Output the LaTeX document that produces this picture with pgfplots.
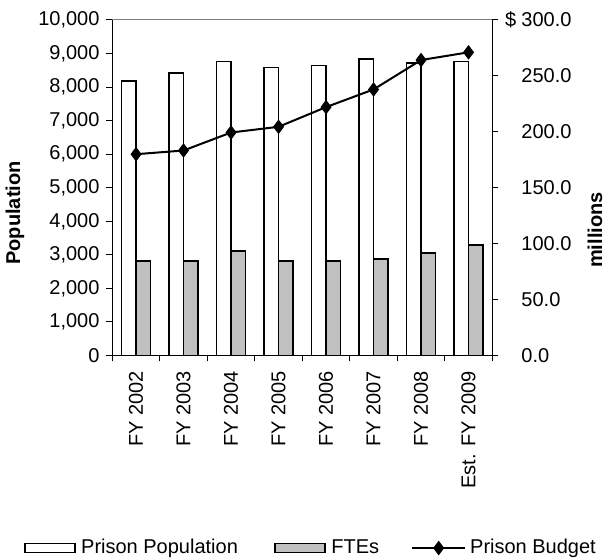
\documentclass[border=0pt]{standalone}
\usepackage{fontspec}
\setmainfont{Liberation Sans}
\usepackage{pgfplots}
\pgfplotsset{compat=1.18}
\definecolor{ftegray}{HTML}{C0C0C0}
\pgfplotsset{
  popleg/.style={draw=black, fill=white, line width=1.5bp,
    legend image code/.code={\draw[##1] (0bp,-4.5bp) rectangle (50bp,4.5bp);}},
  fteleg/.style={draw=black, fill=ftegray, line width=1.5bp,
    legend image code/.code={\draw[##1] (0bp,-4.5bp) rectangle (50bp,4.5bp);}},
  budleg/.style={legend image code/.code={\draw[mark repeat=2,mark phase=2,##1] plot coordinates {(0bp,0bp) (26.5bp,0bp) (53bp,0bp)};}},
}
\begin{document}
\fontsize{20bp}{24bp}\selectfont
\begin{tikzpicture}
\useasboundingbox (0,0) rectangle (605bp,559bp);
\begin{axis}[
  at={(112.3bp,203.5bp)}, anchor=south west,
  scale only axis, width=380bp, height=335.5bp,
  xmin=-0.5, xmax=7.5, ymin=0, ymax=10000,
  ybar=0pt, bar width=14.5bp,
  axis x line*=bottom, axis y line*=left,
  axis line style={line width=1bp, black},
  xtick={0,...,7},
  xticklabels={FY 2002,FY 2003,FY 2004,FY 2005,FY 2006,FY 2007,FY 2008,Est. FY 2009},
  major x tick style={draw=none},
  minor xtick={-0.5,0.5,...,7.5},
  tick align=outside,
  major tick length=6bp, minor tick length=6bp,
  every tick/.style={black, line width=1bp},
  ytick={0,1000,...,10000},
  scaled y ticks=false,
  yticklabel style={/pgf/number format/.cd, fixed, 1000 sep={,}, assume math mode=true},
  xticklabel style={rotate=90, anchor=east},
  xticklabel shift=3bp,
  ylabel={\textbf{Population}},
  every axis y label/.style={at={(axis description cs:-0.256,0.4247)}, rotate=90, anchor=center},
  clip=false,
]
\addplot[draw=black, fill=white, line width=1.5bp] coordinates {(0,8180) (1,8420) (2,8770) (3,8590) (4,8650) (5,8830) (6,8720) (7,8770)};
\addplot[draw=black, fill=ftegray, line width=1.5bp] coordinates {(0,2820) (1,2820) (2,3120) (3,2820) (4,2820) (5,2880) (6,3050) (7,3290)};
\end{axis}
\begin{axis}[
  at={(112.3bp,203.5bp)}, anchor=south west,
  scale only axis, width=380bp, height=335.5bp,
  xmin=-0.5, xmax=7.5, ymin=0, ymax=300,
  axis y line*=right, axis x line=none,
  axis line style={line width=1bp, black},
  tick align=outside, major tick length=6bp,
  every tick/.style={black, line width=1bp},
  ytick={0,50,...,300},
  yticklabels={\hspace*{16.3bp}0.0,\hspace*{16.3bp}50.0,\hspace*{16.3bp}100.0,\hspace*{16.3bp}150.0,\hspace*{16.3bp}200.0,\hspace*{16.3bp}250.0,\makebox[16.3bp][l]{\$}300.0},
  yticklabel style={anchor=west},
  ylabel={\textbf{millions}},
  every axis y label/.style={at={(axis description cs:1.2703,0.374)}, rotate=90, anchor=center},
  legend columns=3,
  legend style={draw=none, fill=none, inner sep=0pt, at={(axis description cs:-0.2324,-0.5738)}, anchor=west,
    /tikz/column 1/.style={column sep=3.5bp}, /tikz/column 3/.style={column sep=3.5bp}, /tikz/column 5/.style={column sep=2bp},
    /tikz/column 2/.style={column sep=34.5bp}, /tikz/column 4/.style={column sep=30bp}},
  clip=false,
]
\addlegendimage{popleg}
\addlegendentry{Prison Population}
\addlegendimage{fteleg}
\addlegendentry{FTEs}
\addplot[budleg, black, line width=2bp, mark=diamond*, mark size=6.5bp, mark options={solid, line width=1bp}] coordinates {(0,180.0) (1,183.3) (2,199.4) (3,204.5) (4,222.1) (5,237.9) (6,264.2) (7,271.1)};
\addlegendentry{Prison Budget}
\draw[gray, line width=1bp] (rel axis cs:0,1) -- (rel axis cs:1,1);
\end{axis}
\end{tikzpicture}
\end{document}
